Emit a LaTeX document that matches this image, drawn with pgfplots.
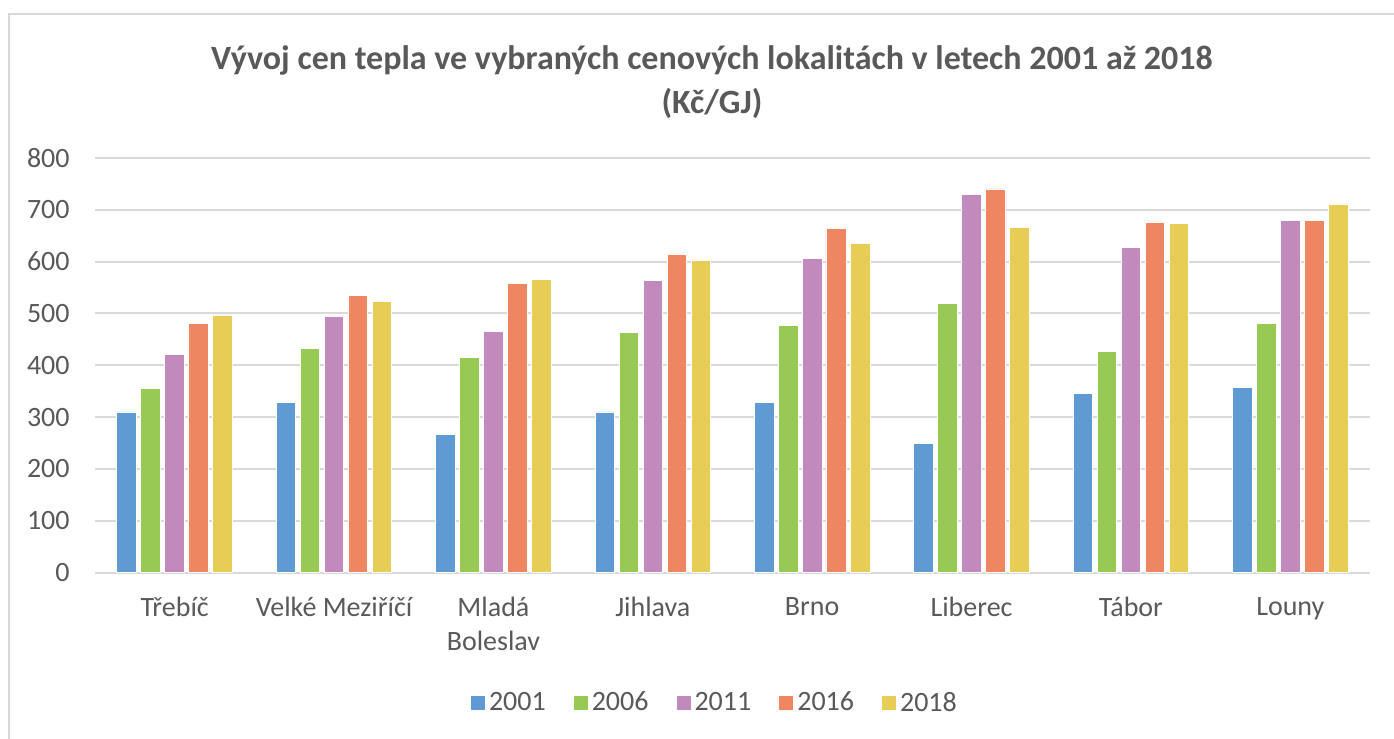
\documentclass[border=0pt]{standalone}
\usepackage{pgfplots}
\pgfplotsset{compat=1.18}
\usepackage{fontspec}
\setmainfont{Carlito}
\definecolor{cblue}{HTML}{5F9BD2}
\definecolor{cgreen}{HTML}{97C954}
\definecolor{cpurple}{HTML}{C28ABC}
\definecolor{corange}{HTML}{EE8662}
\definecolor{cyellow}{HTML}{E7CD55}
\definecolor{txt}{HTML}{595959}
\definecolor{gridc}{HTML}{D9D9D9}
\begin{document}
\begin{tikzpicture}
\path[use as bounding box] (-47.5pt,-83.15pt) rectangle (649.5pt,286.35pt);
\draw[gridc, line width=1pt] (-43pt,-83.15pt) -- (-43pt,279.35pt) -- (649.5pt,279.35pt);
\begin{axis}[
  at={(0,0)}, anchor=south west,
  scale only axis, width=637.5pt, height=207.45pt,
  xmin=-0.5, xmax=7.5, ymin=0, ymax=800,
  ytick={0,100,...,800},
  xtick={0,...,7},
  xticklabels={Třebíč, Velké Meziříčí, {Mladá\\Boleslav}, Jihlava, Brno, Liberec, Tábor, Louny},
  axis line style={draw=none},
  major tick length=0pt,
  ymajorgrids, grid style={gridc, line width=1pt},
  /pgf/number format/assume math mode=true,
  tick label style={font=\fontsize{14}{17}\selectfont, text=txt},
  yticklabel style={anchor=east, inner sep=0pt, xshift=-12.5pt},
  xticklabel style={anchor=north, inner sep=0pt, yshift=-12pt, align=center},
  ybar=2.2pt, bar width=9.8pt,
  every axis plot/.append style={draw=white, line width=0.4pt},
  legend columns=5,
  legend style={at={(0.487,-0.314)}, anchor=center, draw=none, font=\fontsize{14}{17}\selectfont, text=txt,
    /tikz/every even column/.append style={column sep=12pt}},
  legend image code/.code={\fill[#1, draw=none] (0pt,-3.5pt) rectangle (7pt,3.5pt);},
]
\addplot[fill=cblue] coordinates {(0,310) (1,329) (2,267) (3,310) (4,329) (5,249) (6,346) (7,357)};
\addplot[fill=cgreen] coordinates {(0,355) (1,432) (2,415) (3,463) (4,477) (5,520) (6,426) (7,481)};
\addplot[fill=cpurple] coordinates {(0,420) (1,495) (2,466) (3,563) (4,606) (5,729) (6,628) (7,680)};
\addplot[fill=corange] coordinates {(0,480) (1,535) (2,557) (3,614) (4,663) (5,740) (6,675) (7,680)};
\addplot[fill=cyellow] coordinates {(0,497) (1,523) (2,566) (3,603) (4,634) (5,665) (6,674) (7,711)};
\legend{2001,2006,2011,2016,2018}
\end{axis}
\node[text=txt, font=\fontsize{17}{20}\selectfont\bfseries] at (308.5pt,256.35pt) {Vývoj cen tepla ve vybraných cenových lokalitách v letech 2001 až 2018};
\node[text=txt, font=\fontsize{17}{20}\selectfont\bfseries] at (308.5pt,234.85pt) {(Kč/GJ)};
\end{tikzpicture}
\end{document}
